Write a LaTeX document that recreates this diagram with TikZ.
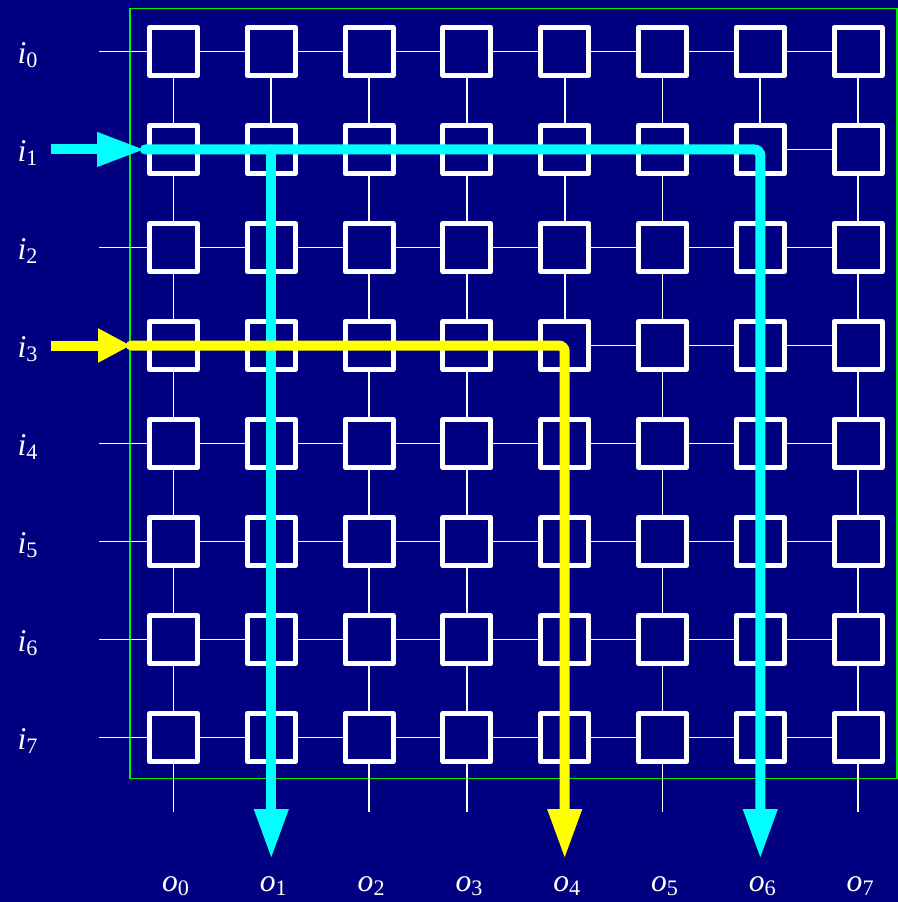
\documentclass[tikz,border=0pt]{standalone}
\usepackage{fontspec}
\setmainfont{Liberation Serif}
\usetikzlibrary{arrows.meta}
\definecolor{bgblue}{RGB}{0,0,128}
\definecolor{frame}{RGB}{0,240,0}
\definecolor{aqua}{RGB}{0,255,255}
\definecolor{lemon}{RGB}{255,255,0}

\tikzset{
  switch/.style={draw=white, fill=bgblue, line width=0.1cm, line join=round, minimum size=0.96cm, inner sep=0pt},
  wire/.style={white, line width=0.035cm},
  port/.style={text=white, font=\fontsize{18}{21}\selectfont},
  feed/.style={line width=0.2cm},
  route/.style={line width=0.2cm, line cap=round, rounded corners=0.12cm},
}

\begin{document}
\begin{tikzpicture}[x=0.02cm, y=-0.02cm]
  \fill[bgblue] (0,0) rectangle (898,902);
  \useasboundingbox (0,0) rectangle (898,902);

  % crossbar frame
  \draw[frame, line width=0.035cm] (130,8.5) rectangle (897,778.5);

  % 8x8 switch grid
  \foreach \r in {0,...,7}
    \foreach \c in {0,...,7}
      \node[switch] (sw-\r-\c) at (173.5 + \c*97.8, 51.5 + \r*98) {};

  % inputs on the left
  \foreach \r in {0,...,7} {
    \coordinate (in-\r) at (99, 51.5 + \r*98);
    \draw[wire] (in-\r) -- (sw-\r-0);
    \node[port] (lbl-i\r) at (28, 55 + \r*98) {\textit{i}\textsubscript{\r}};
  }

  % outputs at the bottom
  \foreach \c in {0,...,7} {
    \coordinate (out-\c) at (173.5 + \c*97.8, 812);
    \draw[wire] (sw-7-\c) -- (out-\c);
    \node[port] (lbl-o\c) at (176 + \c*97.8, 886) {\textit{o}\textsubscript{\c}};
  }

  % row and column wires
  \foreach \r in {0,...,7}
    \foreach \c in {0,...,6} {
      \pgfmathtruncatemacro\n{\c+1}
      \draw[wire] (sw-\r-\c) -- (sw-\r-\n);
    }
  \foreach \r in {0,...,6}
    \foreach \c in {0,...,7} {
      \pgfmathtruncatemacro\n{\r+1}
      \draw[wire] (sw-\r-\c) -- (sw-\n-\c);
    }

  % i1 multicast to o1 and o6
  \coordinate (i1-tail) at (51, 149.5);
  \coordinate (i1-tip) at (145, 149.5);
  \coordinate (o1-tip) at (271.3, 859);
  \coordinate (o6-tip) at (760.3, 859);
  \draw[aqua, feed, -{Triangle[length=0.96cm, width=0.64cm]}] (i1-tail) -- (i1-tip);
  \draw[aqua, route, -{Triangle[length=1cm, width=0.64cm]}]
    (i1-tip) -- (sw-1-6.center) -- (o6-tip);
  \draw[aqua, route, -{Triangle[length=1cm, width=0.64cm]}]
    (sw-1-1.center) -- (o1-tip);

  % i3 to o4
  \coordinate (i3-tail) at (51, 345.5);
  \coordinate (i3-tip) at (131, 345.5);
  \coordinate (o4-tip) at (564.7, 859);
  \draw[lemon, feed, -{Triangle[length=0.66cm, width=0.64cm]}] (i3-tail) -- (i3-tip);
  \draw[lemon, route, -{Triangle[length=1cm, width=0.64cm]}]
    (i3-tip) -- (sw-3-4.center) -- (o4-tip);
\end{tikzpicture}
\end{document}
